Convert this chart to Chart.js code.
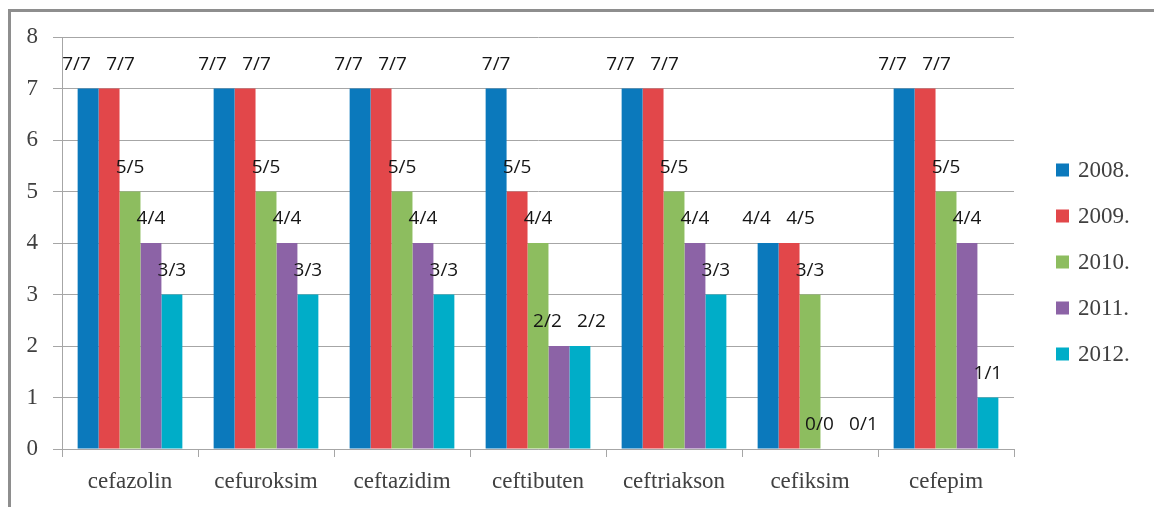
<!DOCTYPE html>
<html>
<head>
<meta charset="utf-8">
<script src="https://cdn.jsdelivr.net/npm/chart.js@4.4.1/dist/chart.umd.min.js"></script>
<style>
  html, body { margin: 0; padding: 0; background: #ffffff; }
  #wrap { position: relative; width: 1154px; height: 507px; overflow: hidden; }
  #frame { position: absolute; left: 8px; top: 9px; right: -10px; bottom: -10px;
           border-top: 3px solid #8e8e8e; border-left: 3px solid #8e8e8e; pointer-events: none; }
  canvas { position: absolute; left: 0; top: 0; }
</style>
</head>
<body>
<div id="wrap">
  <canvas id="chart" width="1154" height="507"></canvas>
  <div id="frame"></div>
</div>
<script>
// Antibiotics on the x axis
const categories = ['cefazolin', 'cefuroksim', 'ceftazidim', 'ceftibuten', 'ceftriakson', 'cefiksim', 'cefepim'];

// Series names (years)
const years = ['2008.', '2009.', '2010.', '2011.', '2012.'];

// Bar heights per year, one value per antibiotic
const values2008 = [7, 7, 7, 7, 7, 4, 7];
const values2009 = [7, 7, 7, 5, 7, 4, 7];
const values2010 = [5, 5, 5, 4, 5, 3, 5];
const values2011 = [4, 4, 4, 2, 4, 0, 4];
const values2012 = [3, 3, 3, 2, 3, 0, 1];

// Ratio labels shown above each bar
const labels2008 = ['7/7', '7/7', '7/7', '7/7', '7/7', '4/4', '7/7'];
const labels2009 = ['7/7', '7/7', '7/7', '5/5', '7/7', '4/5', '7/7'];
const labels2010 = ['5/5', '5/5', '5/5', '4/4', '5/5', '3/3', '5/5'];
const labels2011 = ['4/4', '4/4', '4/4', '2/2', '4/4', '0/0', '4/4'];
const labels2012 = ['3/3', '3/3', '3/3', '2/2', '3/3', '0/1', '1/1'];

// Y axis tick values
const yTicks = [0, 1, 2, 3, 4, 5, 6, 7, 8];

const seriesValues = [values2008, values2009, values2010, values2011, values2012];
const seriesLabels = [labels2008, labels2009, labels2010, labels2011, labels2012];
const seriesColors = ['#0b79bc', '#e2474a', '#8dbd5f', '#8c63a6', '#00adc8'];

const serif = "'Liberation Serif', 'Times New Roman', serif";
const sans = "'Open Sans', 'DejaVu Sans', sans-serif";

// Draws the ratio text above each bar using the bar elements' own positions.
// Neighbouring labels at the same height are pushed apart so they stay readable.
const ratioLabels = {
  id: 'ratioLabels',
  afterDatasetsDraw(chart) {
    const ctx = chart.ctx;
    const minGap = 44;
    ctx.save();
    ctx.font = '19px ' + sans;
    ctx.fillStyle = '#151515';
    ctx.textAlign = 'center';
    ctx.textBaseline = 'middle';
    const nCat = chart.data.labels.length;
    for (let j = 0; j < nCat; j++) {
      const items = chart.data.datasets.map((ds, i) => {
        const bar = chart.getDatasetMeta(i).data[j];
        return { text: ds.ratio[j], x: bar.x, y: bar.y - 24 };
      });
      for (let k = 1; k < items.length; k++) {
        const a = items[k - 1], b = items[k];
        if (Math.abs(a.y - b.y) < 1 && b.x - a.x < minGap) {
          const mid = (a.x + b.x) / 2;
          a.x = mid - minGap / 2;
          b.x = mid + minGap / 2;
        }
      }
      items.forEach(it => ctx.fillText(it.text, it.x, it.y));
    }
    ctx.restore();
  }
};

// Legend at the right: coloured squares with the year names
const sideLegend = {
  id: 'sideLegend',
  afterDraw(chart) {
    const ctx = chart.ctx;
    const x0 = chart.chartArea.right + 42;
    const step = 46;
    const n = chart.data.datasets.length;
    const yMid = 262;
    ctx.save();
    ctx.font = '23px ' + serif;
    ctx.textBaseline = 'middle';
    ctx.textAlign = 'left';
    chart.data.datasets.forEach((ds, i) => {
      const y = yMid + (i - (n - 1) / 2) * step;
      ctx.fillStyle = ds.backgroundColor;
      ctx.fillRect(x0, y - 6.5, 13, 13);
      ctx.fillStyle = '#404040';
      ctx.fillText(ds.label, x0 + 22, y + 1);
    });
    ctx.restore();
  }
};

function drawChart() {
  new Chart(document.getElementById('chart'), {
    type: 'bar',
    data: {
      labels: categories,
      datasets: years.map((y, i) => ({
        label: y,
        data: seriesValues[i],
        ratio: seriesLabels[i],
        backgroundColor: seriesColors[i],
        borderWidth: 0,
        categoryPercentage: 0.77,
        barPercentage: 1.0
      }))
    },
    options: {
      responsive: false,
      animation: false,
      devicePixelRatio: 1,
      layout: { padding: { left: 0, top: 37, right: 140, bottom: 0 } },
      plugins: {
        legend: { display: false },
        tooltip: { enabled: false }
      },
      scales: {
        x: {
          afterFit(scale) { scale.height = 58; },
          grid: {
            offset: true,
            drawOnChartArea: false,
            tickLength: 8,
            color: '#a6a6a6'
          },
          border: { color: '#a6a6a6' },
          ticks: {
            padding: 11,
            color: '#404040',
            font: { family: serif, size: 23 }
          }
        },
        y: {
          min: 0,
          max: 8,
          afterFit(scale) { scale.width = 62; },
          afterBuildTicks(scale) { scale.ticks = yTicks.map(v => ({ value: v })); },
          grid: {
            color: '#a6a6a6',
            tickLength: 9
          },
          border: { color: '#a6a6a6' },
          ticks: {
            padding: 15,
            color: '#404040',
            font: { family: serif, size: 23 }
          }
        }
      }
    },
    plugins: [ratioLabels, sideLegend]
  });
}

Promise.all([
  document.fonts.load('23px "Liberation Serif"'),
  document.fonts.load('19px "Open Sans"')
]).then(drawChart, drawChart);
</script>
</body>
</html>
